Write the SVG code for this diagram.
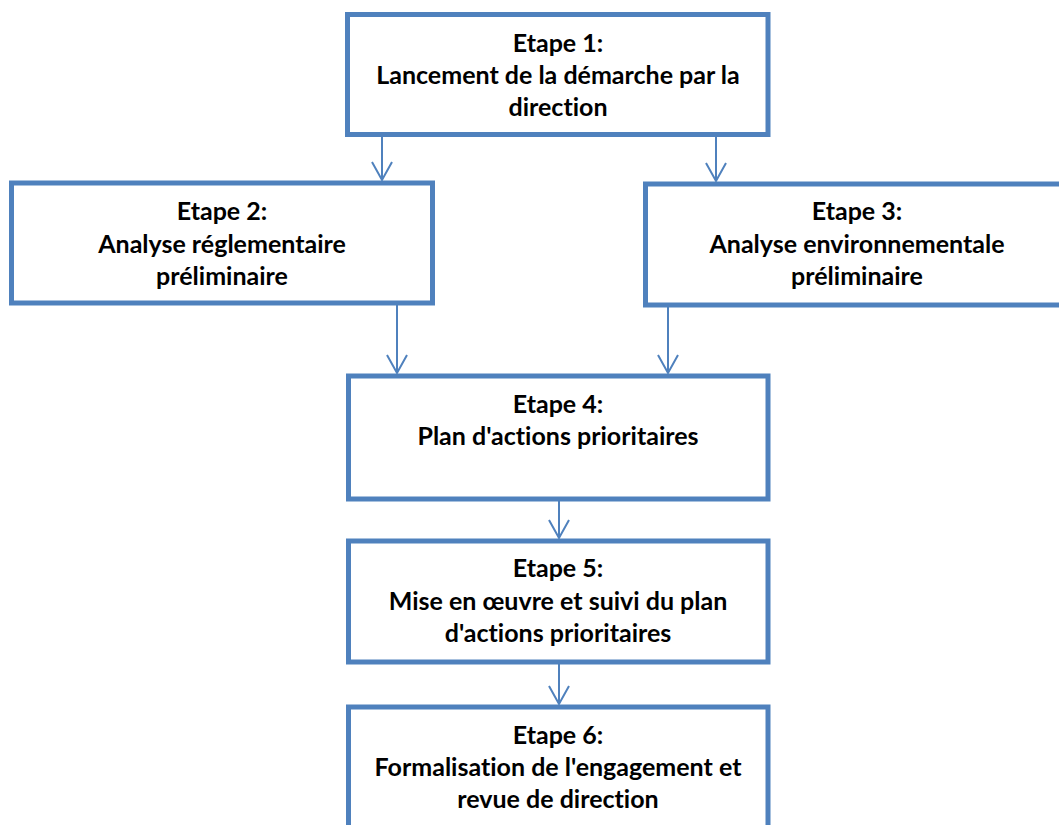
<svg xmlns="http://www.w3.org/2000/svg" width="1059" height="825" viewBox="0 0 1059 825">
  <style>
    .box { fill: #ffffff; stroke: #4F81BD; stroke-width: 5; }
    .link { fill: none; stroke: #4F81BD; stroke-width: 2; }
    .label { font-family: Lato, "Open Sans", "Liberation Sans", sans-serif; font-weight: bold; font-size: 25px; fill: #000000; text-anchor: middle; font-variant-ligatures: none; }
  </style>
  <defs>
    <marker id="arrow" markerUnits="userSpaceOnUse" markerWidth="26" markerHeight="26" viewBox="-22 -13 26 26" refX="0" refY="0" orient="auto">
      <path d="M-18,-10 L0,0 L-18,10" fill="none" stroke="#4F81BD" stroke-width="2"/>
    </marker>
  </defs>
  <rect width="1059" height="825" fill="#ffffff"/>

  <g id="connectors">
    <line class="link" x1="382" y1="137" x2="382" y2="180" marker-end="url(#arrow)"/>
    <line class="link" x1="716" y1="137" x2="716" y2="181" marker-end="url(#arrow)"/>
    <line class="link" x1="397" y1="305" x2="397" y2="373" marker-end="url(#arrow)"/>
    <line class="link" x1="668" y1="307" x2="668" y2="373" marker-end="url(#arrow)"/>
    <line class="link" x1="559" y1="501" x2="559" y2="538" marker-end="url(#arrow)"/>
    <line class="link" x1="559" y1="664" x2="559" y2="704" marker-end="url(#arrow)"/>
  </g>

  <g id="etape1">
    <rect class="box" x="347.5" y="14.5" width="420.5" height="120"/>
    <text class="label" x="558" y="52">Etape 1:</text>
    <text class="label" x="558" y="84">Lancement de la démarche par la</text>
    <text class="label" x="558" y="116">direction</text>
  </g>

  <g id="etape2">
    <rect class="box" x="11.5" y="183" width="421" height="120"/>
    <text class="label" x="222" y="220">Etape 2:</text>
    <text class="label" x="222" y="253">Analyse réglementaire</text>
    <text class="label" x="222" y="285">préliminaire</text>
  </g>

  <g id="etape3">
    <rect class="box" x="645.5" y="184" width="423" height="121"/>
    <text class="label" x="857" y="220">Etape 3:</text>
    <text class="label" x="857" y="253">Analyse environnementale</text>
    <text class="label" x="857" y="285">préliminaire</text>
  </g>

  <g id="etape4">
    <rect class="box" x="348.5" y="376" width="419.5" height="123"/>
    <text class="label" x="558" y="413">Etape 4:</text>
    <text class="label" x="558" y="445">Plan d'actions prioritaires</text>
  </g>

  <g id="etape5">
    <rect class="box" x="348.5" y="541" width="419.5" height="121"/>
    <text class="label" x="558" y="577">Etape 5:</text>
    <text class="label" x="558" y="610">Mise en œuvre et suivi du plan</text>
    <text class="label" x="558" y="642">d'actions prioritaires</text>
  </g>

  <g id="etape6">
    <rect class="box" x="348.5" y="707" width="419.5" height="140"/>
    <text class="label" x="558" y="744">Etape 6:</text>
    <text class="label" x="558" y="776">Formalisation de l'engagement et</text>
    <text class="label" x="558" y="808">revue de direction</text>
  </g>
</svg>
